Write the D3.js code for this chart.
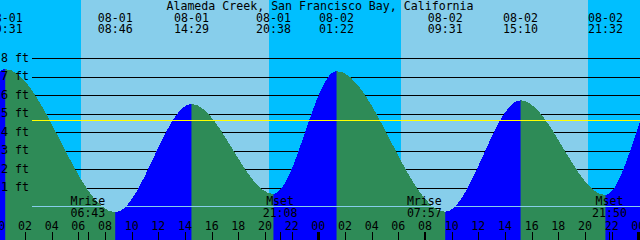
<!DOCTYPE html>
<html>
<head>
<meta charset="utf-8">
<script src="https://cdn.jsdelivr.net/npm/d3@7"></script>
<style>
  body { margin: 0; background: #fff; }
  svg { display: block; }
  text { font-family: "DejaVu Sans Mono", monospace; font-size: 11.6px; fill: #000; }
</style>
</head>
<body>
<svg id="chart" width="640" height="240"></svg>
<script>
// station + data
const title = "Alameda Creek, San Francisco Bay, California";

// high / low tides (first two and last two are off the visible window)
const tideTimes = [
  "2024-07-31 13:40", "2024-07-31 19:50", "2024-08-01 00:31", "2024-08-01 08:46",
  "2024-08-01 14:29", "2024-08-01 20:38", "2024-08-02 01:22", "2024-08-02 09:31",
  "2024-08-02 15:10", "2024-08-02 21:32", "2024-08-03 02:05", "2024-08-03 10:15"
];
const tideHeights = [5.4, 0.7, 7.42, -0.33, 5.53, 0.66, 7.31, -0.3, 5.73, 0.6, 7.2, -0.25];

// sunrise / sunset
const sunTimes = ["2024-08-01 06:12", "2024-08-01 20:18", "2024-08-02 06:12", "2024-08-02 20:15"];
const sunKinds = ["rise", "set", "rise", "set"];

// moonrise / moonset
const moonTimes = ["2024-08-01 06:43", "2024-08-01 21:08", "2024-08-02 07:57", "2024-08-02 21:50"];
const moonLabels = ["Mrise", "Mset", "Mrise", "Mset"];

const depthTicks = [1, 2, 3, 4, 5, 6, 7, 8];
const mslHeight = 4.65;

const W = 640, H = 240;
const parse = d3.utcParse("%Y-%m-%d %H:%M");
const fmtDate = d3.utcFormat("%m-%d");
const fmtTime = d3.utcFormat("%H:%M");
const fmtHour = d3.utcFormat("%H");

const start = new Date(Date.UTC(2024, 7, 1, 0, 7, 30));
const end = new Date(+start + 48 * 3600e3);

const x = d3.scaleUtc().domain([start, end]).range([0, W]);
const y = d3.scaleLinear().domain([0, 8]).range([206.2, 58.3]);

const svg = d3.select("#chart");

// day / night background
let bounds = [start].concat(sunTimes.map(parse)).concat([end]);
let kinds = ["night"].concat(sunKinds.map((k) => (k === "rise" ? "day" : "night")));
svg.append("g")
  .selectAll("rect")
  .data(kinds)
  .enter()
  .append("rect")
  .attr("x", (d, i) => Math.round(x(bounds[i])))
  .attr("width", (d, i) => Math.round(x(bounds[i + 1])) - Math.round(x(bounds[i])))
  .attr("y", 0)
  .attr("height", H)
  .style("fill", (d) => (d === "day" ? "#87CEEB" : "#00BFFF"));

// depth lines, behind the water
svg.append("g")
  .selectAll("line")
  .data(depthTicks)
  .enter()
  .append("line")
  .attr("x1", 32)
  .attr("x2", W)
  .attr("y1", (d) => Math.round(y(d)) + 0.5)
  .attr("y2", (d) => Math.round(y(d)) + 0.5)
  .style("stroke", "#000")
  .style("stroke-width", 1)
  .style("shape-rendering", "crispEdges");

// tide curve
var tides = tideTimes.map((t, i) => ({ t: parse(t), h: tideHeights[i] }));
var area = d3.area()
  .x((d) => x(d.t))
  .y0(H)
  .y1((d) => y(d.h))
  .curve(d3.curveMonotoneX);

svg.append("path")
  .datum(tides)
  .attr("d", area)
  .style("fill", "#2E8B57")
  .style("shape-rendering", "crispEdges");

// rising parts in blue
var rising = [];
for (let i = 0; i < tides.length - 1; i++) {
  if (tides[i + 1].h > tides[i].h) rising.push([tides[i].t, tides[i + 1].t]);
}
svg.append("clipPath")
  .attr("id", "flood")
  .selectAll("rect")
  .data(rising)
  .enter()
  .append("rect")
  .attr("x", (d) => x(d[0]))
  .attr("width", (d) => x(d[1]) - x(d[0]))
  .attr("y", 0)
  .attr("height", H);

svg.append("path")
  .datum(tides)
  .attr("d", area)
  .attr("clip-path", "url(#flood)")
  .style("fill", "#0000FF")
  .style("shape-rendering", "crispEdges");

// mean sea level + datum
svg.append("line")
  .attr("x1", 32).attr("x2", W)
  .attr("y1", Math.round(y(mslHeight)) + 0.5)
  .attr("y2", Math.round(y(mslHeight)) + 0.5)
  .style("stroke", "#FFFF00")
  .style("shape-rendering", "crispEdges");
svg.append("line")
  .attr("x1", 32).attr("x2", W)
  .attr("y1", Math.round(y(0)) + 0.5)
  .attr("y2", Math.round(y(0)) + 0.5)
  .style("stroke", "#87CEEB")
  .style("shape-rendering", "crispEdges");

// depth labels
svg.append("g")
  .selectAll("text")
  .data(depthTicks)
  .enter()
  .append("text")
  .attr("x", 1)
  .attr("y", (d) => y(d) + 3.7)
  .text((d) => d + " ft");

// title
svg.append("text")
  .attr("x", W / 2)
  .attr("y", 9.5)
  .attr("text-anchor", "middle")
  .text(title);

// high/low labels along the top
var shown = tides.filter((d) => x(d.t) >= 0 && x(d.t) <= W);
var tideLbl = svg.append("g").selectAll("g").data(shown).enter().append("g");
tideLbl.append("text")
  .attr("x", (d) => x(d.t))
  .attr("y", 21.7)
  .attr("text-anchor", "middle")
  .text((d) => fmtDate(d.t));
tideLbl.append("text")
  .attr("x", (d) => x(d.t))
  .attr("y", 33.3)
  .attr("text-anchor", "middle")
  .text((d) => fmtTime(d.t));

// moon events
var moon = moonTimes.map((t, i) => ({ t: parse(t), label: moonLabels[i] }));
var moonLbl = svg.append("g").selectAll("g").data(moon).enter().append("g");
moonLbl.append("text")
  .attr("x", (d) => x(d.t))
  .attr("y", 205)
  .attr("text-anchor", "middle")
  .text((d) => d.label);
moonLbl.append("text")
  .attr("x", (d) => x(d.t))
  .attr("y", 217.3)
  .attr("text-anchor", "middle")
  .text((d) => fmtTime(d.t));

// hour labels and ticks
var hours = d3.utcHour.every(2).range(new Date(Date.UTC(2024, 7, 1, 0)), new Date(Date.UTC(2024, 7, 3, 1)));
svg.append("g")
  .selectAll("text")
  .data(hours)
  .enter()
  .append("text")
  .attr("x", (d) => x(d))
  .attr("y", 230)
  .attr("text-anchor", "middle")
  .text((d) => fmtHour(d));

var tickTimes = hours.concat(moon.map((d) => d.t));
svg.append("g")
  .selectAll("line")
  .data(tickTimes)
  .enter()
  .append("line")
  .attr("x1", (d) => Math.round(x(d)) + 0.5)
  .attr("x2", (d) => Math.round(x(d)) + 0.5)
  .attr("y1", 232)
  .attr("y2", H)
  .style("stroke", "#000")
  .style("stroke-width", (d) => (d.getUTCHours() === 0 && d.getUTCMinutes() === 0 ? 3 : 1))
  .style("shape-rendering", "crispEdges");
</script>
</body>
</html>
